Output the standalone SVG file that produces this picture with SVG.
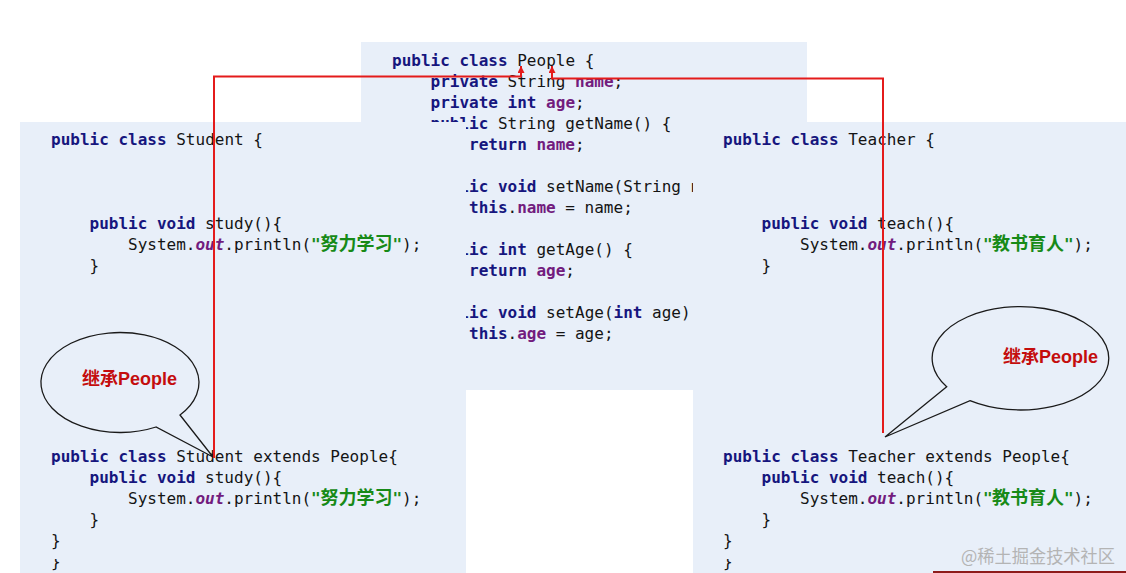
<svg xmlns="http://www.w3.org/2000/svg" width="1126" height="573" viewBox="0 0 1126 573">
<style>
.bg{fill:#e8eff9}
.c{font-family:"DejaVu Sans Mono","Liberation Mono",monospace;font-size:16px;fill:#141414;white-space:pre}
.k{font-weight:bold;fill:#16167e}
.f{font-weight:bold;fill:#721c7e}
.o{font-weight:bold;font-style:italic;fill:#721c7e}
.s{font-weight:bold;fill:#178a17}
.z{font-family:"Noto Sans CJK SC",sans-serif;font-weight:bold;font-size:18px;fill:#178a17}
.bubble{fill:#e8eff9;stroke:#1a1a1a;stroke-width:1.3}
.bt{font-family:"Liberation Sans","Noto Sans CJK SC",sans-serif;font-weight:bold;font-size:18px;fill:#c40d0d}
.red{fill:none;stroke:#e41b1b;stroke-width:2}
.wm{font-family:"Noto Sans CJK SC",sans-serif;font-size:18px;fill:#b4b4b4}
</style>
<defs>
<marker id="arr" viewBox="0 0 8 8" refX="8" refY="4" markerWidth="8" markerHeight="7" markerUnits="userSpaceOnUse" orient="auto">
<path d="M0,0 L8,4 L0,8 z" fill="#e41b1b"/>
</marker>
<clipPath id="peopleClip"><polygon points="361,42 807,42 807,122 693,122 693,390 466,390 466,122 361,122"/></clipPath>
<clipPath id="sClip"><rect x="20" y="559" width="446" height="14"/></clipPath>
<clipPath id="tClip"><rect x="693" y="559" width="433" height="14"/></clipPath>
</defs>
<rect x="0" y="0" width="1126" height="573" fill="#ffffff"/>

<g id="people">
<path class="bg" d="M361,42 H807 V122 H693 V390 H466 V122 H361 Z"/>
<g clip-path="url(#peopleClip)">
<text class="c" x="392" y="66"><tspan class="k">public class</tspan> People {</text>
<text class="c" x="430.5" y="87"><tspan class="k">private</tspan> String <tspan class="f">name</tspan>;</text>
<text class="c" x="430.5" y="108"><tspan class="k">private int</tspan> <tspan class="f">age</tspan>;</text>
<text class="c" x="430.5" y="129"><tspan class="k">public</tspan> String getName() {</text>
<text class="c" x="469" y="150"><tspan class="k">return</tspan> <tspan class="f">name</tspan>;</text>
<text class="c" x="430.5" y="192"><tspan class="k">public void</tspan> setName(String name) {</text>
<text class="c" x="469" y="213"><tspan class="k">this</tspan>.<tspan class="f">name</tspan> = name;</text>
<text class="c" x="430.5" y="255"><tspan class="k">public int</tspan> getAge() {</text>
<text class="c" x="469" y="276"><tspan class="k">return</tspan> <tspan class="f">age</tspan>;</text>
<text class="c" x="430.5" y="318"><tspan class="k">public void</tspan> setAge(<tspan class="k">int</tspan> age) {</text>
<text class="c" x="469" y="339"><tspan class="k">this</tspan>.<tspan class="f">age</tspan> = age;</text>
</g>
</g>

<g id="student">
<rect class="bg" x="20" y="122" width="446" height="451"/>
<text class="c" x="51" y="145"><tspan class="k">public class</tspan> Student {</text>
<text class="c" x="89.5" y="229"><tspan class="k">public void</tspan> study(){</text>
<text class="c" x="128" y="250">System.<tspan class="o">out</tspan>.println(<tspan class="s">"</tspan><tspan class="z" x="320.5">努力学习</tspan><tspan class="s" x="392.5">"</tspan><tspan x="402.1">);</tspan></text>
<text class="c" x="89.5" y="271">}</text>
<text class="c" x="51" y="462"><tspan class="k">public class</tspan> Student extends People{</text>
<text class="c" x="89.5" y="483"><tspan class="k">public void</tspan> study(){</text>
<text class="c" x="128" y="504">System.<tspan class="o">out</tspan>.println(<tspan class="s">"</tspan><tspan class="z" x="320.5">努力学习</tspan><tspan class="s" x="392.5">"</tspan><tspan x="402.1">);</tspan></text>
<text class="c" x="89.5" y="525">}</text>
<text class="c" x="51" y="546">}</text>
<text class="c" x="51" y="567" clip-path="url(#sClip)">}</text>
</g>

<g id="teacher">
<rect class="bg" x="693" y="122" width="433" height="451"/>
<text class="c" x="723" y="145"><tspan class="k">public class</tspan> Teacher {</text>
<text class="c" x="761.5" y="229"><tspan class="k">public void</tspan> teach(){</text>
<text class="c" x="800" y="250">System.<tspan class="o">out</tspan>.println(<tspan class="s">"</tspan><tspan class="z" x="992">教书育人</tspan><tspan class="s" x="1064">"</tspan><tspan x="1073.6">);</tspan></text>
<text class="c" x="761.5" y="271">}</text>
<text class="c" x="723" y="462"><tspan class="k">public class</tspan> Teacher extends People{</text>
<text class="c" x="761.5" y="483"><tspan class="k">public void</tspan> teach(){</text>
<text class="c" x="800" y="504">System.<tspan class="o">out</tspan>.println(<tspan class="s">"</tspan><tspan class="z" x="992">教书育人</tspan><tspan class="s" x="1064">"</tspan><tspan x="1073.6">);</tspan></text>
<text class="c" x="761.5" y="525">}</text>
<text class="c" x="723" y="546">}</text>
<text class="c" x="723" y="567" clip-path="url(#tClip)">}</text>
</g>

<g id="callout-student">
<path class="bubble" d="M180,415 L213,457 L156,427 A79,50 0 1 1 180,415 Z"/>
<text class="bt" x="82" y="385">继承People</text>
</g>

<g id="callout-teacher">
<path class="bubble" d="M946.7,386.7 L885,437 L970,400.7 A88.3,51.7 0 1 0 946.7,386.7 Z"/>
<text class="bt" x="1003" y="363">继承People</text>
</g>

<g id="connectors">
<path class="red" d="M214,458 V76.5 H521 V66" marker-end="url(#arr)"/>
<path class="red" d="M883,433 V78.5 H552 V66" marker-end="url(#arr)"/>
</g>

<rect x="933" y="571" width="193" height="2" fill="#8e1b1b"/>
<text class="wm" x="961" y="563" textLength="154" lengthAdjust="spacingAndGlyphs">@稀土掘金技术社区</text>
</svg>
